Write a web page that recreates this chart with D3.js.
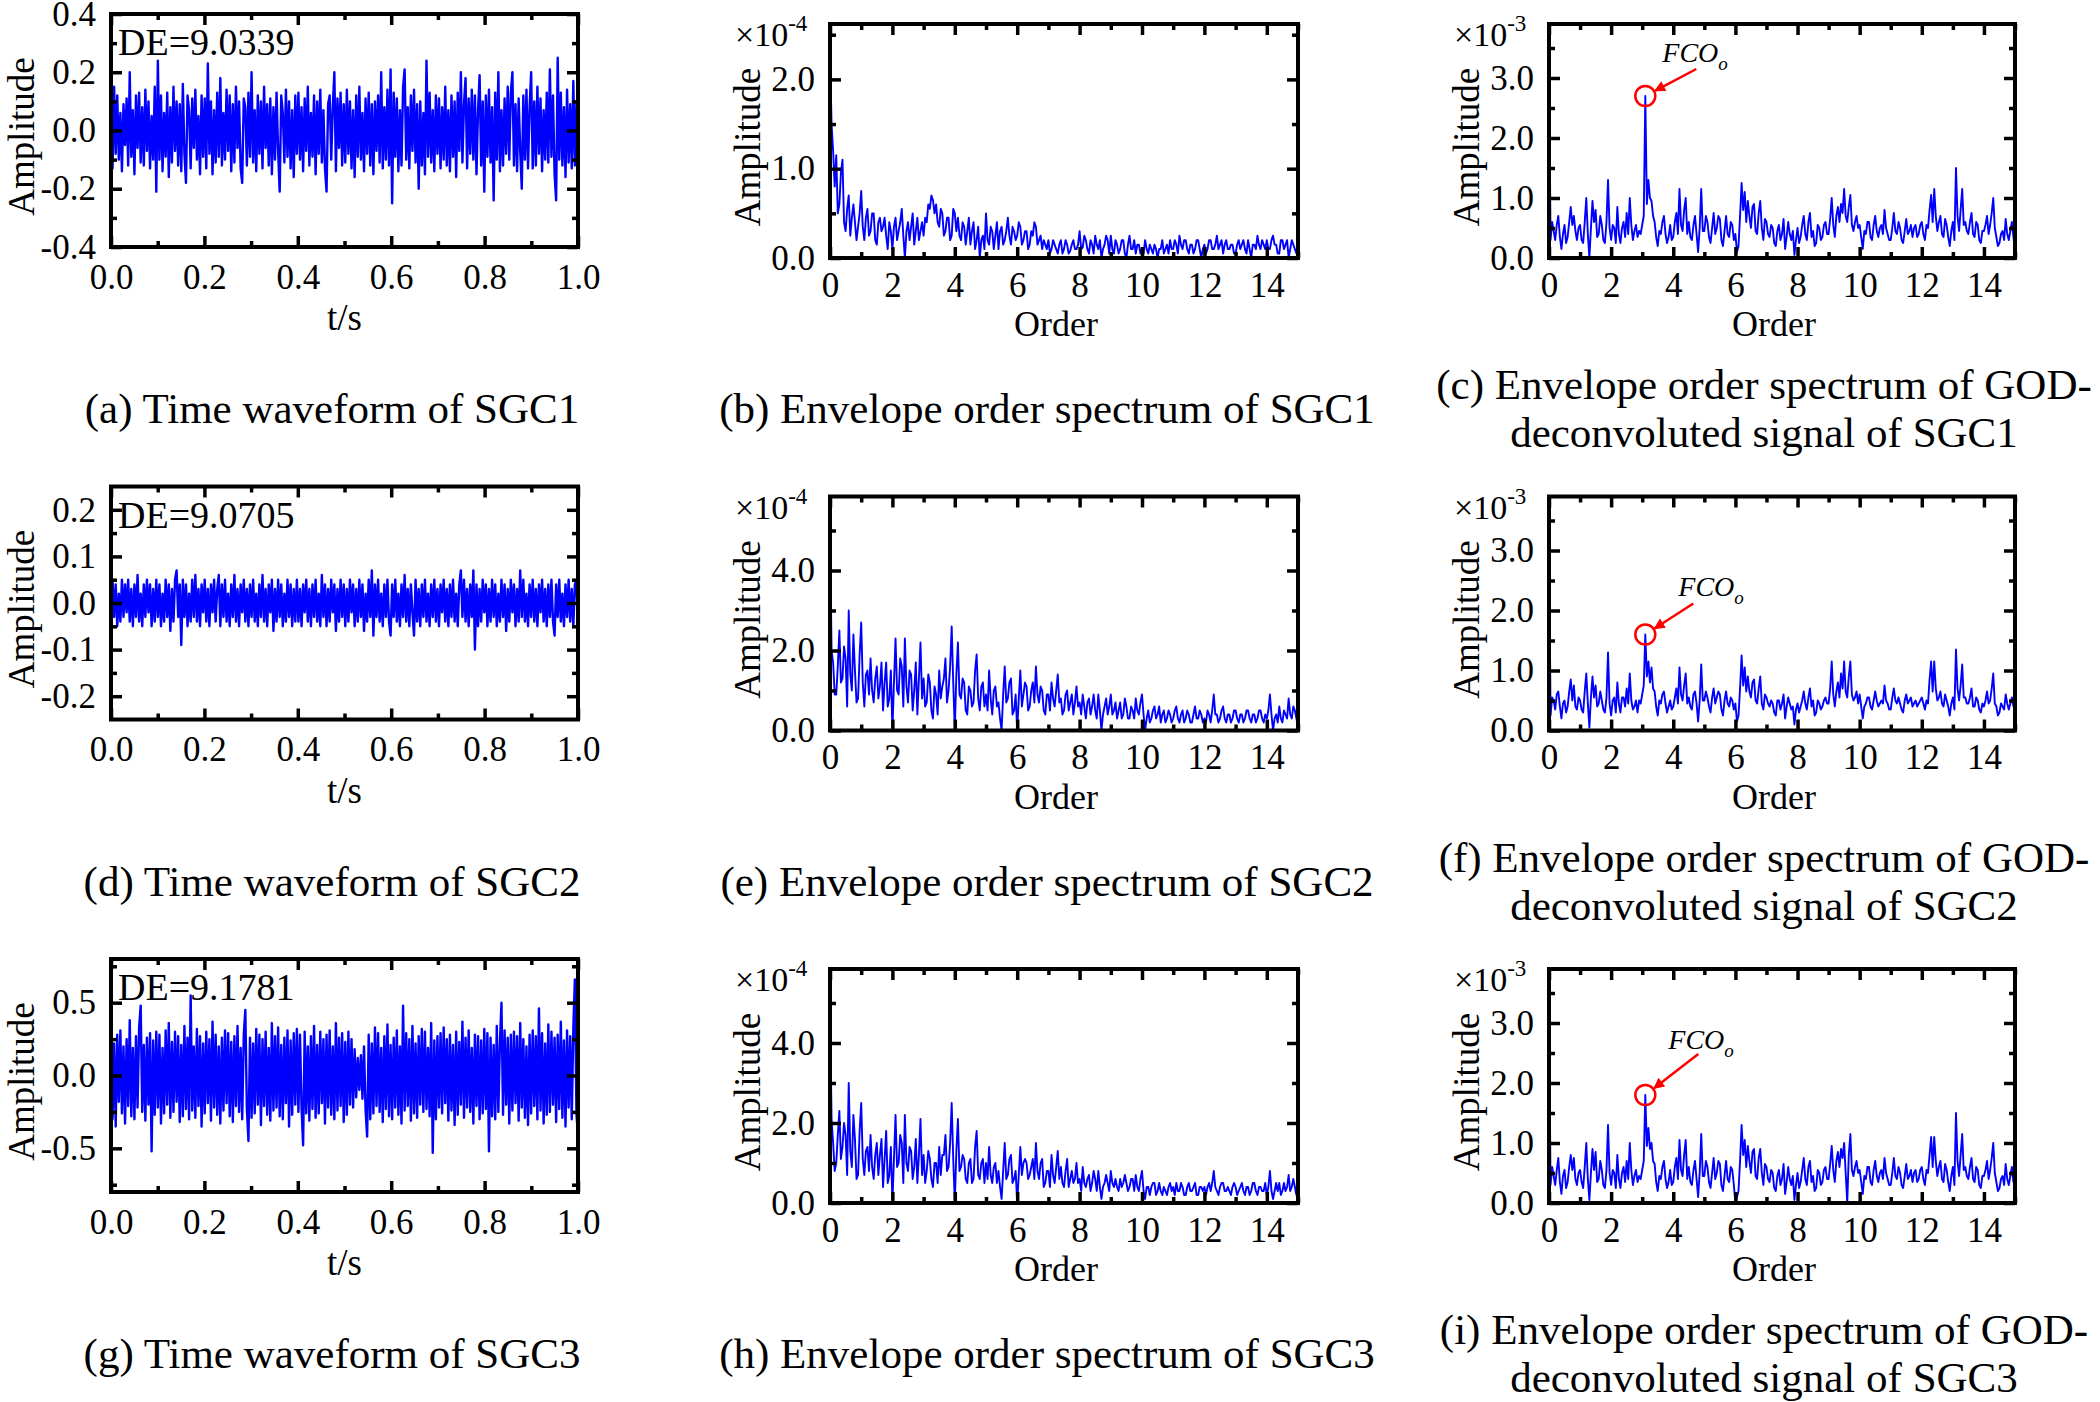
<!DOCTYPE html>
<html>
<head>
<meta charset="utf-8">
<script src="https://cdn.jsdelivr.net/npm/d3@7"></script>
<style>
  body { margin: 0; background: #fff; }
  svg text { font-family: "Liberation Serif", "Times New Roman", serif; fill: #000; }
</style>
</head>
<body>
<div id="container"></div>
<script>
const width = 2100, height = 1402;

// time waveforms (amplitude), sampled evenly over 0..1 s, 30 samples per 0.1 s
const sgc1Wave = [
  .10,-.13,.15,-.08,.12,-.10,.06,-.14,.09,-.05,.11,-.12,.20,-.09,.07,-.15,.12,-.06,.13,-.11,.08,-.12,.14,-.07,.10,-.13,.05,-.10,.15,-.21,
  .24,-.10,.12,-.14,.06,-.09,.13,-.16,.08,-.11,.15,-.07,.10,-.12,.09,-.14,.16,-.08,-.18,.12,.07,-.13,.11,-.06,.14,-.10,.05,-.15,.12,-.09,
  .11,-.13,.23,-.08,.10,-.15,.07,-.11,.13,-.09,.18,-.12,.06,-.10,.14,-.07,.12,-.14,.09,-.11,.15,-.06,.10,-.13,-.18,.11,.08,-.12,.13,-.09,
  .20,-.11,.07,-.14,.12,-.08,.10,-.13,.15,-.06,.09,-.12,.11,-.15,.08,-.10,.13,-.07,-.21,.12,.06,-.11,.14,-.09,.10,-.13,.07,-.16,.12,-.08,
  .13,-.10,.08,-.14,.11,-.07,.15,-.12,.06,-.09,.12,-.15,.10,-.08,.14,-.11,.07,-.13,-.21,.09,.12,-.10,.08,.20,-.14,.11,-.06,.13,-.12,.09,
  -.11,.14,-.08,.10,-.13,.07,-.16,.12,-.09,.15,-.10,.06,-.14,.11,-.08,.13,-.12,.09,-.15,.10,-.07,.12,-.11,.20,-.13,.08,-.10,.14,-.12,.21,
  -.25,.13,-.09,.11,-.14,.07,-.12,.15,.21,-.10,.08,-.13,.12,-.07,.14,-.11,.09,-.20,.10,-.12,.06,-.15,.24,-.09,.13,-.11,.07,-.14,.12,-.08,
  .11,-.13,.08,-.10,.15,-.12,.07,-.14,.12,-.09,.10,-.16,.13,-.07,.20,-.11,.09,.18,-.13,.11,-.08,.14,-.10,.12,-.15,.07,.19,-.12,.10,-.21,
  .12,-.09,.14,-.11,.08,-.24,.13,-.10,.20,-.14,.07,-.12,.11,-.08,.15,-.10,.13,.20,-.12,.09,-.14,.11,-.07,-.20,.12,-.10,.14,-.13,.08,.20,
  -.13,.10,-.12,.15,-.08,.11,-.14,.07,-.10,.13,-.11,.21,-.09,.12,-.15,-.24,.25,-.10,.13,-.12,.08,-.16,.14,-.11,.09,-.13,.17,-.12,.10,-.15
];
const sgc2Wave = [
  -.10,.05,-.03,.04,-.05,.02,-.04,.05,-.03,.04,-.02,.05,-.04,.03,-.05,.04,-.03,.06,-.04,.02,-.05,.04,-.03,.05,-.02,.04,-.05,.03,-.04,.05,
  -.03,.04,-.05,.02,-.04,.05,-.03,.04,-.06,.03,-.04,.05,.07,-.03,.04,-.09,.05,-.03,.04,-.05,.02,-.04,.05,-.03,.06,-.04,.03,-.05,.04,-.02,
  .05,-.04,.03,-.05,.04,-.02,.05,-.04,.03,.06,-.05,.04,-.03,.05,-.04,.02,-.05,.04,-.03,.06,-.04,.03,-.05,.04,-.02,.05,-.04,.03,-.05,.04,
  -.03,.05,-.04,.02,-.05,.04,-.03,.06,-.04,.03,-.05,.04,-.02,.05,-.06,.03,-.04,.05,-.03,.04,-.05,.02,-.04,.05,-.03,.04,-.05,.03,-.04,.05,
  -.04,.03,-.05,.04,-.02,.05,-.04,.03,-.05,.04,-.03,.05,-.04,.02,-.05,.06,-.03,.04,-.05,.03,-.04,.05,-.02,.04,-.06,.03,-.04,.05,-.03,.04,
  -.05,.03,-.04,.05,-.02,.04,-.05,.03,-.04,.05,-.03,.04,-.06,.02,-.04,.05,-.03,.07,-.07,.04,-.03,.05,-.04,.02,-.05,.04,-.03,.05,-.04,-.07,
  .04,-.03,.05,-.04,.02,-.05,.04,-.03,.06,-.04,.03,-.05,.04,-.02,-.07,.05,-.04,.03,-.05,.04,-.03,.05,-.04,.02,-.05,.04,-.03,.05,-.04,.03,
  -.05,.04,-.02,.05,-.04,.03,-.05,.04,-.03,.05,-.04,.02,-.05,.04,.07,-.03,.05,-.04,.03,-.05,.04,-.03,.07,-.10,.04,-.05,.03,-.04,.05,-.02,
  .04,-.05,.03,-.04,.05,-.03,.04,-.05,.02,-.04,.05,-.03,.04,-.06,.03,-.04,.05,-.02,.04,-.05,.03,-.04,.07,-.03,.05,-.04,.02,-.05,.04,-.03,
  .05,-.04,.03,-.05,.04,-.02,.05,-.04,.03,-.05,.04,-.03,.05,-.04,-.07,.04,-.03,.05,-.04,.02,-.05,.04,-.03,.05,-.04,.03,-.05,.04,.05,-.06
];
const sgc3Wave = [
  .35,-.30,.22,-.35,.28,-.18,.31,-.26,.20,-.33,.25,-.21,.38,-.28,.19,-.30,.27,-.22,.33,.48,-.25,.21,-.31,.26,-.20,.29,-.52,.24,-.27,.30,
  -.22,.28,-.33,.19,-.26,.31,-.20,.36,-.29,.23,-.25,.30,-.18,.27,-.32,.21,-.28,.34,-.23,.26,-.30,.55,-.24,.20,-.29,.32,-.21,.27,-.35,.22,
  -.26,.30,-.19,.25,-.31,.37,-.22,.28,-.27,.20,-.33,.26,-.24,.31,-.19,.29,-.28,.23,-.32,.27,-.21,.34,-.25,.19,-.30,.28,.45,-.23,-.45,.26,
  -.29,.22,-.26,.32,-.20,.28,-.34,.25,-.21,.30,-.27,.19,-.31,.36,-.24,.27,-.22,.33,-.28,.21,-.30,.26,-.19,.31,-.35,.24,-.27,.29,-.20,.32,
  -.25,.28,-.22,-.48,.30,-.26,.20,-.31,.27,-.23,.34,-.29,.21,-.26,.30,-.19,.25,-.33,.28,-.22,.31,-.27,.20,-.30,.36,-.24,.26,-.21,.29,-.32,
  .23,-.27,.30,-.20,.25,-.22,.18,-.15,.12,-.10,.14,-.16,.20,-.24,-.42,.28,-.30,.22,-.26,.33,-.21,.29,-.25,.19,-.32,.27,-.23,.35,-.28,.21,
  -.30,.26,-.22,.31,-.27,.20,-.33,.48,-.24,.29,-.21,.25,-.31,.34,-.26,.22,-.29,.27,-.20,.32,-.25,.30,-.23,.19,-.28,.36,-.53,.24,-.30,.27,
  -.22,.29,-.26,.33,-.19,.25,-.31,.28,-.24,.21,-.34,.30,-.27,.23,-.20,.37,-.29,.26,-.22,.31,-.25,.19,-.33,.28,-.21,.27,-.30,.24,-.26,.32,
  -.23,.29,-.52,.26,-.28,.21,-.30,.34,-.25,.22,.50,-.27,.31,-.20,.26,-.33,.28,-.24,.30,-.19,.27,-.31,.36,-.22,.25,-.29,.20,-.34,.28,-.26,
  .31,-.21,.27,-.30,.46,-.24,.29,-.33,.22,-.27,.35,-.25,.30,-.20,.26,-.32,.28,-.23,.37,-.29,.24,-.35,.31,-.22,.27,-.30,.33,.66,-.26,-.42
];

// envelope order spectra (x1e-4), orders 0..15 in steps of orderStep, 20 samples per order
const orderStep = 0.05;
const sgc1Env = [
  2.30,1.50,1.20,0.80,1.15,0.50,0.60,0.95,1.10,0.40,0.30,0.55,0.70,0.25,0.45,0.60,0.40,0.20,0.35,0.50,
  0.75,0.35,0.20,0.45,0.55,0.25,0.30,0.50,0.50,0.20,0.15,0.40,0.45,0.30,0.35,0.45,0.25,0.10,0.40,0.30,
  0.10,0.35,0.45,0.20,0.30,0.40,0.55,0.25,0.00,0.30,0.40,0.20,0.35,0.50,0.15,0.30,0.45,0.20,0.30,0.40,
  0.25,0.45,0.40,0.60,0.55,0.70,0.65,0.50,0.60,0.40,0.35,0.55,0.50,0.25,0.30,0.45,0.45,0.20,0.25,0.55,
  0.50,0.30,0.45,0.25,0.20,0.40,0.35,0.15,0.30,0.45,0.15,0.30,0.40,0.10,0.20,0.35,0.00,0.20,0.25,0.10,
  0.50,0.20,0.15,0.35,0.30,0.10,0.25,0.40,0.10,0.30,0.35,0.15,0.20,0.30,0.45,0.25,0.15,0.35,0.30,0.20,
  0.25,0.40,0.35,0.15,0.20,0.30,0.30,0.10,0.15,0.30,0.25,0.40,0.35,0.15,0.20,0.25,0.10,0.20,0.15,0.10,
  0.20,0.05,0.10,0.20,0.15,0.10,0.05,0.15,0.20,0.05,0.10,0.20,0.15,0.05,0.08,0.15,0.20,0.10,0.10,0.15,
  0.30,0.10,0.12,0.25,0.20,0.10,0.05,0.20,0.15,0.05,0.25,0.15,0.10,0.20,0.00,0.10,0.15,0.25,0.20,0.05,
  0.25,0.10,0.05,0.20,0.15,0.05,0.10,0.20,0.20,0.05,0.00,0.15,0.25,0.10,0.10,0.20,0.05,0.15,0.15,0.05,
  0.10,0.05,0.20,0.10,0.05,0.15,0.10,0.05,0.15,0.10,0.00,0.10,0.10,0.20,0.05,0.10,0.15,0.05,0.20,0.10,
  0.10,0.20,0.15,0.05,0.25,0.15,0.10,0.20,0.20,0.10,0.05,0.15,0.15,0.05,0.10,0.20,0.20,0.10,0.00,0.10,
  0.15,0.05,0.10,0.20,0.20,0.10,0.10,0.15,0.25,0.10,0.15,0.20,0.05,0.15,0.20,0.10,0.10,0.15,0.15,0.05,
  0.05,0.15,0.20,0.10,0.15,0.20,0.10,0.05,0.20,0.10,0.00,0.15,0.15,0.10,0.25,0.15,0.10,0.20,0.15,0.10,
  0.20,0.10,0.10,0.20,0.25,0.15,0.15,0.05,0.05,0.20,0.20,0.10,0.15,0.20,0.00,0.10,0.20,0.15,0.10,0.05,
  0.15
];
const sgc2Env = [
  5.20,2.00,1.70,0.90,0.90,1.60,2.50,1.20,1.30,2.10,1.80,0.60,3.00,1.40,1.00,2.40,1.50,0.70,0.80,1.90,
  2.70,1.20,0.60,1.40,1.50,0.90,1.80,1.00,0.70,1.30,1.60,0.80,1.10,1.70,0.50,1.20,1.70,0.60,0.80,1.50,
  0.00,1.20,2.30,1.00,0.90,1.80,1.60,0.60,2.30,1.10,0.70,1.50,1.40,0.50,1.00,1.70,0.40,1.30,2.20,0.80,
  1.30,0.60,0.70,1.40,1.20,0.50,0.30,1.10,0.90,0.40,1.50,0.80,1.10,1.30,1.80,0.70,1.00,1.60,2.60,1.20,
  0.00,1.40,2.20,0.90,0.80,1.30,1.20,0.50,0.40,1.10,1.00,0.60,0.70,1.50,1.90,0.80,0.50,1.10,1.20,0.60,
  0.90,0.50,1.50,0.80,0.40,1.00,1.10,0.60,0.70,0.30,0.00,0.90,1.60,0.70,0.80,1.20,1.30,0.40,0.50,0.90,
  0.00,0.80,1.50,0.60,0.90,1.20,1.10,0.50,0.60,1.00,1.20,0.70,1.60,0.90,0.70,1.10,1.00,0.50,0.40,0.90,
  0.90,0.50,1.20,0.80,0.60,1.00,1.40,0.70,0.80,0.40,0.50,0.90,1.00,0.50,0.70,0.90,0.40,0.70,1.10,0.60,
  0.70,0.40,0.90,0.60,0.30,0.70,0.80,0.40,0.60,0.90,0.50,0.30,0.90,0.50,0.00,0.40,0.60,0.80,0.40,0.60,
  0.90,0.40,0.50,0.70,0.30,0.50,0.70,0.30,0.40,0.80,0.60,0.30,0.30,0.60,0.50,0.30,0.80,0.50,0.40,0.70,
  0.90,0.40,0.00,0.30,0.50,0.20,0.30,0.50,0.60,0.30,0.40,0.60,0.20,0.40,0.50,0.20,0.30,0.50,0.40,0.20,
  0.30,0.50,0.60,0.30,0.20,0.40,0.50,0.20,0.30,0.50,0.40,0.20,0.20,0.40,0.60,0.30,0.30,0.50,0.40,0.20,
  0.30,0.20,0.50,0.40,0.20,0.50,0.90,0.40,0.40,0.20,0.30,0.50,0.60,0.30,0.20,0.40,0.40,0.20,0.30,0.50,
  0.50,0.30,0.20,0.40,0.40,0.20,0.30,0.50,0.50,0.30,0.20,0.40,0.40,0.20,0.30,0.50,0.50,0.30,0.20,0.40,
  0.30,0.50,0.90,0.40,0.00,0.30,0.40,0.20,0.60,0.30,0.20,0.50,0.40,0.30,0.80,0.40,0.30,0.60,0.50,0.30,
  0.10
];
const sgc3Env = [
  5.00,2.10,1.50,0.80,1.00,1.70,2.30,1.10,1.40,2.00,1.70,0.70,3.00,1.30,0.90,2.20,1.60,0.60,0.70,1.80,
  2.50,1.10,0.70,1.30,1.40,0.80,1.70,0.90,0.60,1.20,1.50,0.70,1.20,1.60,0.40,1.10,1.80,0.50,0.70,1.40,
  0.00,1.10,2.20,0.90,1.00,1.70,1.50,0.50,2.20,1.00,0.80,1.40,1.30,0.60,0.90,1.60,0.50,1.20,2.10,0.70,
  1.20,0.50,0.80,1.30,1.10,0.60,0.40,1.00,1.00,0.50,1.40,0.70,1.20,1.20,1.70,0.80,0.90,1.50,2.50,1.10,
  0.00,1.30,2.10,0.80,0.90,1.20,1.10,0.60,0.50,1.00,1.10,0.50,0.60,1.40,1.80,0.70,0.60,1.00,1.10,0.50,
  1.00,0.60,1.40,0.70,0.50,0.90,1.00,0.50,0.80,0.40,0.10,0.80,1.50,0.60,0.70,1.10,1.20,0.50,0.60,0.80,
  0.00,0.70,1.40,0.70,1.00,1.10,1.00,0.60,0.70,0.90,1.10,0.60,1.50,0.80,0.60,1.00,1.10,0.40,0.50,0.80,
  0.80,0.40,1.20,0.70,0.50,0.90,1.30,0.60,0.90,0.50,0.40,0.80,1.10,0.40,0.60,0.80,0.50,0.60,1.00,0.50,
  0.60,0.30,0.90,0.50,0.40,0.60,0.70,0.30,0.50,0.80,0.60,0.30,0.80,0.40,0.10,0.40,0.50,0.70,0.50,0.30,
  0.80,0.50,0.40,0.60,0.40,0.30,0.60,0.40,0.50,0.70,0.50,0.30,0.40,0.60,0.60,0.30,0.70,0.40,0.30,0.60,
  0.80,0.30,0.10,0.40,0.40,0.20,0.40,0.50,0.50,0.20,0.30,0.50,0.30,0.20,0.40,0.30,0.20,0.40,0.50,0.30,
  0.40,0.20,0.50,0.30,0.30,0.50,0.40,0.20,0.20,0.40,0.50,0.30,0.30,0.40,0.50,0.20,0.20,0.40,0.40,0.30,
  0.40,0.20,0.40,0.50,0.30,0.50,0.80,0.40,0.30,0.20,0.40,0.50,0.50,0.30,0.30,0.40,0.30,0.20,0.40,0.50,
  0.40,0.20,0.30,0.40,0.50,0.30,0.20,0.40,0.40,0.20,0.30,0.50,0.50,0.30,0.20,0.40,0.40,0.30,0.30,0.50,
  0.20,0.40,0.80,0.30,0.10,0.30,0.50,0.30,0.50,0.20,0.30,0.50,0.30,0.40,0.70,0.30,0.40,0.60,0.40,0.20,
  0.20
];

// envelope order spectra of GOD-deconvoluted signals (x1e-3)
const sgc1God = [
  3.45,0.30,0.60,0.45,0.30,0.55,0.70,0.35,0.15,0.40,0.55,0.25,0.35,0.60,0.85,0.55,0.70,0.45,0.30,0.50,
  0.55,0.30,0.25,0.60,1.00,0.40,0.00,0.50,0.95,0.60,0.80,0.35,0.40,0.70,0.55,0.30,0.25,0.60,1.30,0.50,
  0.30,0.55,0.50,0.25,0.85,0.40,0.25,0.50,0.60,0.35,0.75,0.40,1.00,0.55,0.30,0.45,0.55,0.35,0.45,0.40,
  0.55,0.70,2.70,0.90,1.30,1.00,0.95,0.70,0.60,0.35,0.20,0.45,0.40,0.60,0.70,0.40,0.25,0.35,0.55,0.30,
  0.35,0.60,0.75,0.40,1.15,0.55,0.45,0.80,1.00,0.40,0.60,0.35,0.30,0.55,0.70,0.40,0.10,0.50,1.15,0.45,
  0.45,0.70,0.60,0.35,0.25,0.50,0.75,0.40,0.50,0.70,0.65,0.30,0.20,0.45,0.70,0.40,0.35,0.60,0.55,0.30,
  0.40,0.10,0.20,0.70,1.25,0.80,1.10,0.60,0.95,0.70,0.50,0.85,0.90,0.45,0.40,0.75,0.95,0.50,0.30,0.65,
  0.60,0.40,0.35,0.55,0.50,0.25,0.20,0.45,0.55,0.30,0.40,0.65,0.15,0.35,0.60,0.40,0.30,0.45,0.05,0.30,
  0.50,0.25,0.35,0.55,0.70,0.40,0.30,0.60,0.75,0.35,0.45,0.20,0.25,0.55,0.50,0.30,0.35,0.55,0.60,0.40,
  0.40,0.65,1.00,0.55,0.35,0.70,0.85,0.60,0.90,0.75,1.15,0.70,0.60,0.85,1.05,0.55,0.45,0.60,0.70,0.50,
  0.55,0.35,0.15,0.45,0.40,0.60,0.60,0.35,0.30,0.55,0.70,0.45,0.35,0.50,0.55,0.40,0.80,0.50,0.40,0.30,
  0.30,0.50,0.75,0.45,0.40,0.60,0.50,0.30,0.25,0.45,0.65,0.40,0.45,0.55,0.35,0.50,0.55,0.35,0.40,0.55,
  0.60,0.40,0.30,0.55,0.50,0.80,1.05,0.60,1.15,0.70,0.45,0.60,0.70,0.40,0.35,0.65,0.55,0.35,0.20,0.45,
  0.60,0.30,1.50,0.70,0.45,0.80,1.15,0.55,0.60,0.45,0.40,0.60,0.75,0.40,0.35,0.60,0.55,0.30,0.25,0.45,
  0.45,0.55,0.70,0.40,0.55,0.75,1.00,0.50,0.35,0.20,0.25,0.40,0.45,0.30,0.65,0.40,0.30,0.45,0.60,0.35,
  0.10
];
const sgc2God = [
  3.45,0.25,0.55,0.50,0.35,0.60,0.65,0.40,0.20,0.45,0.50,0.30,0.40,0.65,0.85,0.50,0.75,0.40,0.35,0.55,
  0.50,0.35,0.30,0.65,0.95,0.45,0.05,0.55,0.90,0.55,0.75,0.40,0.45,0.65,0.50,0.35,0.30,0.55,1.30,0.45,
  0.25,0.50,0.55,0.30,0.80,0.45,0.30,0.55,0.55,0.40,0.70,0.45,0.95,0.50,0.35,0.40,0.50,0.30,0.50,0.45,
  0.60,0.75,1.60,0.90,1.15,0.80,1.05,0.70,0.65,0.40,0.25,0.50,0.45,0.60,0.65,0.45,0.30,0.40,0.50,0.35,
  0.40,0.55,0.70,0.45,1.05,0.60,0.50,0.75,0.95,0.45,0.55,0.40,0.35,0.60,0.65,0.45,0.15,0.50,1.10,0.50,
  0.50,0.65,0.55,0.40,0.30,0.55,0.70,0.45,0.55,0.65,0.60,0.35,0.25,0.50,0.65,0.45,0.40,0.55,0.50,0.35,
  0.45,0.15,0.25,0.70,1.25,0.75,1.05,0.65,0.90,0.65,0.55,0.80,0.85,0.50,0.45,0.70,0.90,0.45,0.35,0.60,
  0.55,0.45,0.40,0.50,0.45,0.30,0.25,0.50,0.50,0.35,0.45,0.60,0.20,0.40,0.55,0.45,0.35,0.40,0.10,0.35,
  0.45,0.30,0.40,0.50,0.65,0.45,0.35,0.55,0.70,0.40,0.50,0.25,0.30,0.50,0.45,0.35,0.40,0.50,0.55,0.45,
  0.45,0.70,1.15,0.60,0.40,0.65,0.80,0.55,0.95,0.70,1.15,0.65,0.55,0.90,1.15,0.60,0.50,0.55,0.65,0.45,
  0.60,0.40,0.20,0.40,0.45,0.55,0.55,0.40,0.35,0.50,0.65,0.50,0.40,0.45,0.50,0.45,0.75,0.50,0.45,0.35,
  0.35,0.55,0.70,0.50,0.45,0.55,0.45,0.35,0.30,0.50,0.60,0.45,0.50,0.55,0.40,0.45,0.50,0.40,0.45,0.50,
  0.55,0.45,0.35,0.50,0.45,0.85,1.15,0.65,1.15,0.70,0.50,0.55,0.65,0.45,0.40,0.60,0.50,0.40,0.25,0.45,
  0.55,0.35,1.35,0.70,0.50,0.75,1.10,0.55,0.55,0.45,0.45,0.55,0.70,0.40,0.40,0.55,0.50,0.35,0.30,0.45,
  0.40,0.50,0.65,0.45,0.50,0.70,0.95,0.45,0.40,0.25,0.30,0.45,0.40,0.35,0.60,0.45,0.35,0.45,0.55,0.40,
  0.60
];
const sgc3God = [
  3.35,0.30,0.60,0.45,0.30,0.55,0.75,0.35,0.15,0.45,0.55,0.25,0.35,0.60,0.80,0.55,0.75,0.40,0.30,0.50,
  0.55,0.35,0.25,0.60,1.00,0.40,0.05,0.50,0.90,0.55,0.85,0.35,0.40,0.70,0.55,0.30,0.25,0.55,1.30,0.50,
  0.30,0.55,0.50,0.25,0.80,0.40,0.25,0.50,0.60,0.35,0.70,0.40,1.00,0.55,0.30,0.45,0.55,0.35,0.45,0.40,
  0.55,0.70,1.80,0.95,1.25,0.90,1.00,0.70,0.65,0.35,0.20,0.45,0.40,0.60,0.70,0.40,0.25,0.35,0.55,0.30,
  0.35,0.60,0.75,0.40,1.05,0.55,0.45,0.80,1.05,0.40,0.60,0.35,0.30,0.55,0.70,0.40,0.10,0.50,1.15,0.45,
  0.45,0.70,0.60,0.35,0.25,0.50,0.75,0.40,0.50,0.70,0.65,0.30,0.20,0.45,0.70,0.40,0.35,0.60,0.55,0.30,
  0.00,0.10,0.20,0.70,1.30,0.80,1.05,0.60,0.95,0.70,0.50,0.85,0.90,0.45,0.40,0.75,0.90,0.50,0.30,0.65,
  0.60,0.40,0.35,0.55,0.50,0.25,0.20,0.45,0.55,0.30,0.40,0.65,0.15,0.35,0.60,0.40,0.30,0.45,0.05,0.30,
  0.50,0.25,0.35,0.55,0.75,0.40,0.30,0.60,0.70,0.35,0.45,0.20,0.25,0.55,0.50,0.30,0.35,0.55,0.60,0.40,
  0.40,0.65,0.95,0.55,0.35,0.70,0.85,0.60,0.90,0.75,1.00,0.50,0.00,0.80,1.15,0.55,0.45,0.60,0.70,0.50,
  0.55,0.35,0.15,0.45,0.40,0.60,0.60,0.35,0.30,0.55,0.70,0.45,0.35,0.50,0.55,0.40,0.75,0.50,0.40,0.30,
  0.30,0.50,0.75,0.45,0.40,0.60,0.50,0.30,0.25,0.45,0.65,0.40,0.45,0.55,0.35,0.50,0.55,0.35,0.40,0.55,
  0.60,0.40,0.30,0.55,0.50,0.80,1.10,0.60,1.10,0.70,0.45,0.60,0.70,0.40,0.35,0.65,0.55,0.35,0.20,0.45,
  0.60,0.30,1.50,0.70,0.45,0.80,1.15,0.55,0.60,0.45,0.40,0.60,0.75,0.40,0.35,0.60,0.55,0.30,0.25,0.45,
  0.45,0.55,0.70,0.40,0.55,0.75,1.00,0.50,0.35,0.20,0.25,0.40,0.45,0.30,0.65,0.40,0.30,0.45,0.60,0.35,
  0.50
];

// tick values
const timeMajor = [0, 0.2, 0.4, 0.6, 0.8, 1.0];
const timeMinor = [0.1, 0.3, 0.5, 0.7, 0.9];
const orderMajor = [0, 2, 4, 6, 8, 10, 12, 14];
const orderMinor = [1, 3, 5, 7, 9, 11, 13, 15];

const deValues = ['DE=9.0339', 'DE=9.0705', 'DE=9.1781'];
const fcoOrder = 3.1;

const captions = [
  ['(a) Time waveform of SGC1'], ['(b) Envelope order spectrum of SGC1'], ['(c) Envelope order spectrum of GOD-', 'deconvoluted signal of SGC1'],
  ['(d) Time waveform of SGC2'], ['(e) Envelope order spectrum of SGC2'], ['(f) Envelope order spectrum of GOD-', 'deconvoluted signal of SGC2'],
  ['(g) Time waveform of SGC3'], ['(h) Envelope order spectrum of SGC3'], ['(i) Envelope order spectrum of GOD-', 'deconvoluted signal of SGC3']
];

// layout
const colX = [[111, 578], [830, 1298], [1549, 2015]];
const colTop = [14, 24, 24];
const colH = [233, 234, 234];
const rowStep = 472.5;
const capX = [332, 1047, 1764];

const panels = [
  {col:0,row:0,kind:'time',data:sgc1Wave,yDomain:[-0.4,0.4],yMajor:[-0.4,-0.2,0,0.2,0.4],yMinor:[-0.3,-0.1,0.1,0.3],de:deValues[0]},
  {col:1,row:0,kind:'order',data:sgc1Env,yDomain:[0,2.62],yMajor:[0,1,2],yMinor:[0.5,1.5,2.5],exp:'-4'},
  {col:2,row:0,kind:'order',data:sgc1God,yDomain:[0,3.9],yMajor:[0,1,2,3],yMinor:[0.5,1.5,2.5,3.5],exp:'-3',fco:{text:[17,-34],tail:[51,-27]}},
  {col:0,row:1,kind:'time',data:sgc2Wave,yDomain:[-0.25,0.25],yMajor:[-0.2,-0.1,0,0.1,0.2],yMinor:[-0.15,-0.05,0.05,0.15],de:deValues[1]},
  {col:1,row:1,kind:'order',data:sgc2Env,yDomain:[0,5.85],yMajor:[0,2,4],yMinor:[1,3,5],exp:'-4'},
  {col:2,row:1,kind:'order',data:sgc2God,yDomain:[0,3.9],yMajor:[0,1,2,3],yMinor:[0.5,1.5,2.5,3.5],exp:'-3',fco:{text:[33,-39],tail:[48,-31]}},
  {col:0,row:2,kind:'time',data:sgc3Wave,yDomain:[-0.8,0.8],yMajor:[-0.5,0,0.5],yMinor:[-0.75,-0.25,0.25,0.75],de:deValues[2]},
  {col:1,row:2,kind:'order',data:sgc3Env,yDomain:[0,5.85],yMajor:[0,2,4],yMinor:[1,3,5],exp:'-4'},
  {col:2,row:2,kind:'order',data:sgc3God,yDomain:[0,3.9],yMajor:[0,1,2,3],yMinor:[0.5,1.5,2.5,3.5],exp:'-3',fco:{text:[23,-46],tail:[53,-41]}}
];

const blue = '#0000ff', red = '#ff0000';
const tickFont = 35;

const svg = d3.select('#container').append('svg')
  .attr('width', width).attr('height', height)
  .style('display', 'block');

const defs = svg.append('defs');
defs.append('marker')
  .attr('id', 'arrowRed')
  .attr('viewBox', '0 0 10 10')
  .attr('refX', 9).attr('refY', 5)
  .attr('markerUnits', 'userSpaceOnUse')
  .attr('markerWidth', 15).attr('markerHeight', 11)
  .attr('orient', 'auto')
  .append('path').attr('d', 'M0,0 L10,5 L0,10 z').attr('fill', red);

function tidy(sel) {
  sel.select('.domain').remove();
  sel.attr('font-family', '"Liberation Serif", serif').attr('font-size', tickFont);
  sel.selectAll('.tick line').attr('stroke', '#000').attr('stroke-width', 3.5);
  sel.selectAll('.tick text').attr('fill', '#000');
}

panels.forEach((p, k) => {
  const [x0, x1] = colX[p.col];
  const y0 = colTop[p.col] + p.row * rowStep;
  const w = x1 - x0, h = colH[p.col];
  const isTime = p.kind === 'time';

  const g = svg.append('g').attr('transform', `translate(${x0},${y0})`);

  const x = d3.scaleLinear().domain(isTime ? [0, 1] : [0, 15]).range([0, w]);
  const y = d3.scaleLinear().domain(p.yDomain).range([h, 0]);

  const clipId = 'clip' + k;
  defs.append('clipPath').attr('id', clipId)
    .append('rect').attr('width', w).attr('height', h);

  const n = p.data.length;
  const line = d3.line()
    .x((d, i) => isTime ? x(i / (n - 1)) : x(i * orderStep))
    .y(d => y(d));

  g.append('path')
    .datum(p.data)
    .attr('clip-path', `url(#${clipId})`)
    .attr('fill', 'none')
    .attr('stroke', blue)
    .attr('stroke-width', isTime ? 2.4 : 1.9)
    .attr('stroke-linejoin', 'round')
    .attr('d', line);

  const xMajor = isTime ? timeMajor : orderMajor;
  const xMinor = isTime ? timeMinor : orderMinor;
  const xFmt = isTime ? (d => d.toFixed(1)) : (d => String(d));
  const yFmt = d => d.toFixed(1);

  // bottom + top
  g.append('g').attr('transform', `translate(0,${h})`)
    .call(d3.axisBottom(x).tickValues(xMajor).tickSize(-11).tickPadding(isTime ? 17 : 14).tickFormat(xFmt))
    .call(tidy);
  g.append('g').attr('transform', `translate(0,${h})`)
    .call(d3.axisBottom(x).tickValues(xMinor).tickSize(-6).tickFormat(''))
    .call(tidy);
  g.append('g')
    .call(d3.axisTop(x).tickValues(xMajor).tickSize(-11).tickFormat(''))
    .call(tidy);
  g.append('g')
    .call(d3.axisTop(x).tickValues(xMinor).tickSize(-6).tickFormat(''))
    .call(tidy);

  // left + right
  g.append('g')
    .call(d3.axisLeft(y).tickValues(p.yMajor).tickSize(-11).tickPadding(15).tickFormat(yFmt))
    .call(tidy);
  g.append('g')
    .call(d3.axisLeft(y).tickValues(p.yMinor).tickSize(-6).tickFormat(''))
    .call(tidy);
  g.append('g').attr('transform', `translate(${w},0)`)
    .call(d3.axisRight(y).tickValues(p.yMajor).tickSize(-11).tickFormat(''))
    .call(tidy);
  g.append('g').attr('transform', `translate(${w},0)`)
    .call(d3.axisRight(y).tickValues(p.yMinor).tickSize(-6).tickFormat(''))
    .call(tidy);

  // frame
  g.append('rect')
    .attr('width', w).attr('height', h)
    .attr('fill', 'none').attr('stroke', '#000').attr('stroke-width', 4);

  // axis titles
  g.append('text')
    .attr('transform', `translate(${p.col === 0 ? -90 : -83},${h / 2 + 6}) rotate(-90)`)
    .attr('text-anchor', 'middle')
    .attr('dominant-baseline', 'central')
    .attr('font-size', 37)
    .text('Amplitude');

  g.append('text')
    .attr('x', isTime ? w / 2 : w / 2 - 8)
    .attr('y', h + (isTime ? 83 : 78))
    .attr('text-anchor', 'middle')
    .attr('font-size', isTime ? 37 : 36)
    .text(isTime ? 't/s' : 'Order');

  if (p.de) {
    g.append('text')
      .attr('x', 7).attr('y', 41)
      .attr('font-size', 38)
      .text(p.de);
  }

  if (p.exp) {
    const t = g.append('text')
      .attr('x', -95).attr('y', 22)
      .attr('font-size', 34);
    t.append('tspan').text('\u00d710');
    t.append('tspan').attr('font-size', 23).attr('dy', -15).text(p.exp);
  }

  if (p.fco) {
    const cx = x(fcoOrder), cy = y(p.data[Math.round(fcoOrder / orderStep)]);
    const r = 10;
    g.append('circle')
      .attr('cx', cx).attr('cy', cy).attr('r', r)
      .attr('fill', 'none').attr('stroke', red).attr('stroke-width', 2.5);
    const tx = cx + p.fco.tail[0], ty = cy + p.fco.tail[1];
    const dx = cx - tx, dy = cy - ty, len = Math.hypot(dx, dy);
    const ex = cx - dx / len * (r + 1), ey = cy - dy / len * (r + 1);
    g.append('line')
      .attr('x1', tx).attr('y1', ty).attr('x2', ex).attr('y2', ey)
      .attr('stroke', red).attr('stroke-width', 2.5)
      .attr('marker-end', 'url(#arrowRed)');
    const lab = g.append('text')
      .attr('x', cx + p.fco.text[0]).attr('y', cy + p.fco.text[1])
      .attr('font-size', 28).attr('font-style', 'italic');
    lab.append('tspan').text('FCO');
    lab.append('tspan').attr('font-size', 19).attr('dy', 8).text('o');
  }

  // caption
  const lines = captions[k];
  const capBase = lines.length === 1 ? 423 : 399;
  lines.forEach((s, j) => {
    svg.append('text')
      .attr('x', capX[p.col])
      .attr('y', capBase + j * 48 + p.row * rowStep)
      .attr('text-anchor', 'middle')
      .attr('font-size', 43)
      .text(s);
  });
});
</script>
</body>
</html>
